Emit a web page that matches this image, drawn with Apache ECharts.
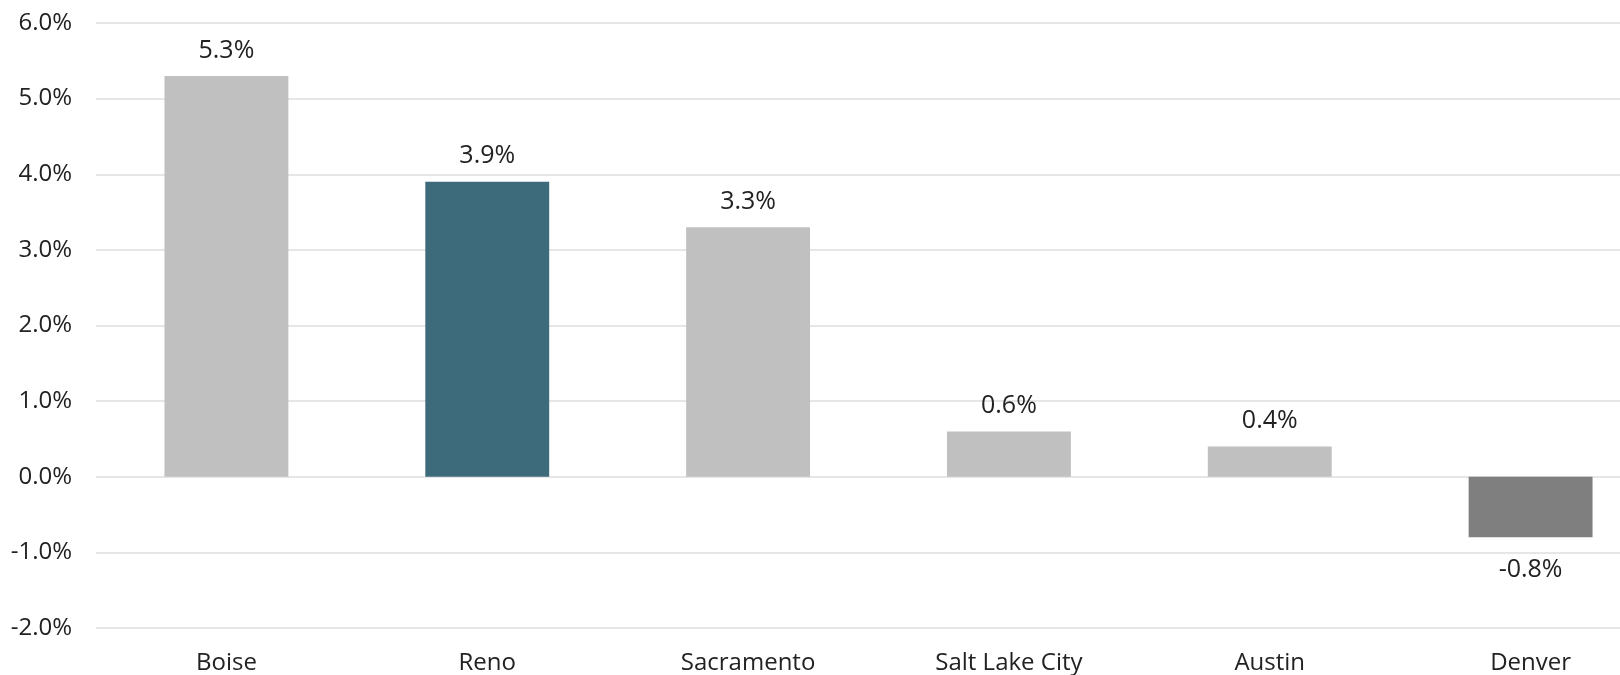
<!DOCTYPE html>
<html>
<head>
<meta charset="utf-8">
<script src="https://cdn.jsdelivr.net/npm/echarts@6/dist/echarts.min.js"></script>
<style>html,body{margin:0;padding:0;background:#fff;}#c{width:1620px;height:675px;}</style>
</head>
<body>
<div id="c"></div>
<script>
const categories = ['Boise', 'Reno', 'Sacramento', 'Salt Lake City', 'Austin', 'Denver'];
const values = [5.3, 3.9, 3.3, 0.6, 0.4, -0.8];
const barColors = ['#c0c0c0', '#3e6b7b', '#c0c0c0', '#c0c0c0', '#c0c0c0', '#7f7f7f'];

const chart = echarts.init(document.getElementById('c'));
chart.setOption({
  animation: false,
  textStyle: { fontFamily: 'Open Sans' },
  grid: { left: 96, right: -41, top: 23, bottom: 47, containLabel: false, outerBoundsMode: 'none' },
  xAxis: {
    type: 'category',
    data: categories,
    axisLine: { show: false },
    axisTick: { show: false },
    axisLabel: { color: '#222', fontSize: 24, margin: 23 }
  },
  yAxis: {
    type: 'value',
    min: -2, max: 6, interval: 1,
    axisLine: { show: false },
    axisTick: { show: false },
    splitLine: { lineStyle: { color: '#e6e6e6', width: 2 } },
    axisLabel: { color: '#222', fontSize: 24, margin: 24, formatter: v => v.toFixed(1) + '%' }
  },
  series: [{
    type: 'bar',
    barWidth: '47.5%',
    data: values.map((v, i) => ({
      value: v,
      itemStyle: { color: barColors[i] },
      label: { distance: v < 0 ? 20 : 13 }
    })),
    label: {
      show: true,
      position: 'outside',
      color: '#222',
      fontSize: 25,
      formatter: p => p.value.toFixed(1) + '%'
    }
  }]
});
</script>
</body>
</html>
